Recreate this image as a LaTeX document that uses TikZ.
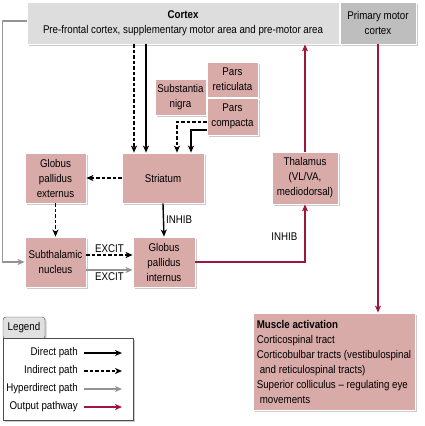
\documentclass[tikz,border=0pt]{standalone}
\usepackage{fontspec}
\setmainfont{Liberation Sans}[FakeStretch=0.87]
\usepackage{xcolor}
\usetikzlibrary{arrows.meta, positioning, shadows}

\definecolor{boxpink}{RGB}{216,170,168}
\definecolor{outred}{RGB}{158,22,62}
\definecolor{cortexgray}{RGB}{221,221,221}
\definecolor{motorgray}{RGB}{190,190,190}

\tikzset{
  area/.style={draw=white, line width=0.8pt, fill=boxpink, align=center, inner sep=1pt,
    drop shadow={shadow xshift=1.5pt, shadow yshift=-1.5pt, fill=black!40}},
  directpath/.style={line width=1.4pt, -{Stealth[length=7pt,width=6pt,inset=2pt]}},
  indirectpath/.style={directpath, dash pattern=on 3.5pt off 2pt},
  hyperpath/.style={directpath, draw=black!42},
  outpath/.style={directpath, draw=outred},
  pathlabel/.style={font=\fontsize{11.2}{12}\selectfont, inner sep=2pt}
}

\begin{document}
\begin{tikzpicture}[x=1pt, y=-1pt, font=\fontsize{11.2}{15}\selectfont]
\useasboundingbox (0,0) rectangle (425,426);

% cortex
\node[area, fill=cortexgray, minimum width=312pt, minimum height=42pt] (cortex) at (183,23)
  {\textbf{Cortex}\\Pre-frontal cortex, supplementary motor area and pre-motor area};
\node[area, fill=motorgray, minimum width=76pt, minimum height=42pt] (motor) at (378,23)
  {Primary motor\\cortex};

% substantia nigra
\node[area, minimum width=51pt, minimum height=36pt] (nigra) at (180.5,97) {Substantia\\nigra};
\node[area, minimum width=51pt, minimum height=35pt] (reticulata) at (232.5,79.5) {Pars\\reticulata};
\node[area, minimum width=51pt, minimum height=37pt] (compacta) at (232.5,116.5) {Pars\\compacta};

% nuclei
\node[area, minimum width=82pt, minimum height=50pt] (striatum) at (163,178) {Striatum};
\node[area, minimum width=61pt, minimum height=50pt] (gpe) at (55.5,178) {Globus\\pallidus\\externus};
\node[area, minimum width=66pt, minimum height=52pt] (thal) at (305,178) {Thalamus\\(VL/VA,\\mediodorsal)};
\node[area, minimum width=61pt, minimum height=50pt] (stn) at (55.5,262) {Subthalamic\\nucleus};
\node[area, minimum width=62pt, minimum height=50pt] (gpi) at (164,262) {Globus\\pallidus\\internus};
\node[area, align=left, minimum width=162pt, minimum height=97pt] (muscle) at (334,361.5)
  {\textbf{Muscle activation}\\Corticospinal tract\\Corticobulbar tracts (vestibulospinal\\
   \hspace*{3pt}and reticulospinal tracts)\\Superior colliculus -- regulating eye\\\hspace*{3pt}movements};

% connections
\coordinate (s1) at ([xshift=-29pt]striatum.north);
\coordinate (s2) at ([xshift=-17pt]striatum.north);
\draw[indirectpath] (cortex.south -| s1) -- (s1);
\draw[directpath] (cortex.south -| s2) -- (s2);
\draw[indirectpath] ([yshift=-5.5pt]compacta.west) -| ([xshift=14pt]striatum.north);
\draw[directpath] ([yshift=-13.5pt]compacta.west) -| ([xshift=28pt]striatum.north);
\draw[indirectpath] (striatum.west) -- (gpe.east);
\draw[indirectpath] (gpe.south) -- (stn.north);
\draw[directpath] (striatum.south) -- node[pathlabel, right] {INHIB} (gpi.north);
\draw[indirectpath] ([yshift=7pt]stn.east) -- node[pathlabel, above] {EXCIT} ([yshift=7pt]gpi.west);
\draw[hyperpath] ([yshift=-8pt]stn.east) -- node[pathlabel, below] {EXCIT} ([yshift=-8pt]gpi.west);
\draw[hyperpath] ([yshift=2pt]cortex.west) -- ++(-24,0) |- (stn.west);
\draw[outpath] (gpi.east) -| node[pathlabel, left=5pt, pos=0.72] {INHIB} (thal.south);
\draw[outpath] (thal.north) -- (thal.north |- cortex.south);
\draw[outpath] (motor.south) -- (motor.south |- muscle.north);

% legend
\node[draw=black!70, fill=black!12, rounded corners=3pt, minimum width=42pt, minimum height=22pt,
  drop shadow={shadow xshift=1.5pt, shadow yshift=-1.5pt, fill=black!40}] (legtab) at (24,328) {Legend};
\node[draw=black!70, fill=white, minimum width=130pt, minimum height=82pt,
  drop shadow={shadow xshift=1.5pt, shadow yshift=-1.5pt, fill=black!40}] (legend) at (68,379) {};
\node[pathlabel, anchor=east] (ldirect) at (80,353) {Direct path};
\node[pathlabel, anchor=east] (lindirect) at (80,371) {Indirect path};
\node[pathlabel, anchor=east] (lhyper) at (80,389) {Hyperdirect path};
\node[pathlabel, anchor=east] (lout) at (80,407) {Output pathway};
\draw[directpath] ([xshift=4pt]ldirect.east) -- ++(38,0);
\draw[indirectpath] ([xshift=4pt]lindirect.east) -- ++(38,0);
\draw[hyperpath] ([xshift=4pt]lhyper.east) -- ++(38,0);
\draw[outpath] ([xshift=4pt]lout.east) -- ++(38,0);
\end{tikzpicture}
\end{document}
